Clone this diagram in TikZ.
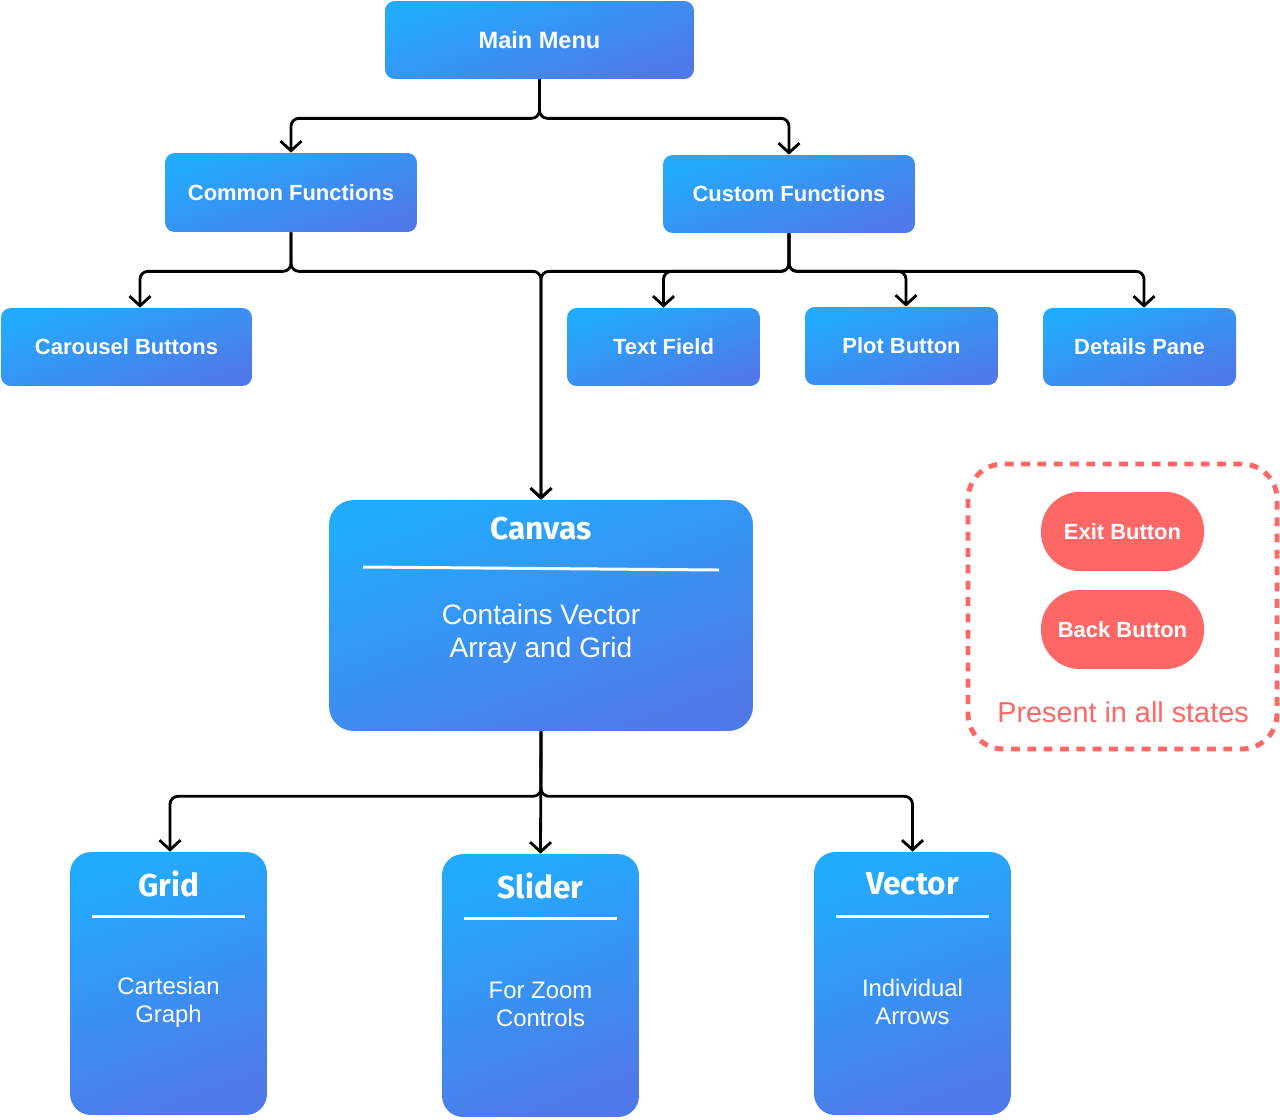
\documentclass[tikz,border=0pt]{standalone}
\usepackage{fontspec}
\setmainfont{Liberation Sans}
\newfontfamily\titlefont{Fira Sans}
\usetikzlibrary{arrows.meta}
\definecolor{gtop}{HTML}{22ABFE}
\definecolor{gbot}{HTML}{4F79E8}
\definecolor{redc}{HTML}{FF6666}
\tikzset{
  box/.style={rounded corners=5.5pt, top color=gtop, bottom color=gbot, shading angle=20,
    draw=none, text=white, inner sep=0pt, font=\bfseries\fontsize{12.5}{14}\selectfont},
  smallbox/.style={box, minimum width=3.86cm, minimum height=1.56cm},
  midbox/.style={box, minimum width=5.04cm, minimum height=1.56cm},
  tallbox/.style={box, rounded corners=12pt, minimum width=3.94cm, minimum height=5.26cm},
  ttl/.style={text=white, font=\titlefont\bfseries\fontsize{18}{20}\selectfont, inner sep=0pt},
  body/.style={text=white, align=center, inner sep=0pt, font=\fontsize{13.6}{16}\selectfont},
  rule/.style={draw=white, line width=1.7pt},
  conn/.style={draw=black, line width=1.6pt, rounded corners=4.5pt,
    -{Straight Barb[length=5.5pt,width=12pt,line width=1.6pt]}},
  pill/.style={fill=redc, draw=none, rounded corners=22pt, minimum width=3.26cm, minimum height=1.58cm,
    text=white, inner sep=0pt, font=\bfseries\fontsize{12.5}{14}\selectfont},
}
\begin{document}
\begin{tikzpicture}[x=0.02cm,y=-0.02cm]
\useasboundingbox (0,0) rectangle (1280,1119);
% top level
\node[box, minimum width=6.18cm, minimum height=1.56cm, font=\bfseries\fontsize{13.4}{15}\selectfont] (mm) at (539.5,40) {Main Menu};
\node[midbox, minimum height=1.58cm] (cf) at (291,192.5) {Common Functions};
\node[midbox] (cuf) at (789,194) {Custom Functions};
\node[midbox, minimum width=5.02cm] (car) at (126.5,347) {Carousel Buttons};
\node[smallbox] (tf) at (663.5,347) {Text Field};
\node[smallbox] (pb) at (901.5,346) {Plot Button};
\node[smallbox] (dp) at (1139.5,347) {Details Pane};
% canvas
\node[box, rounded corners=14pt, minimum width=8.48cm, minimum height=4.62cm] (cv) at (541,615.5) {};
\node[ttl] (cvt) at (541,529) {Canvas};
\draw[rule] (363,567) -- (719,570);
\node[body, font=\fontsize{16}{18.7}\selectfont] (cvb) at (541,634) {Contains Vector\\Array and Grid};
% bottom boxes
\node[tallbox] (gr) at (168.5,983.5) {};
\node[ttl] (grt) at (168.5,884) {Grid};
\draw[rule] (92,916) -- (245,916);
\node[body] (grb) at (168.5,1002) {Cartesian\\Graph};
\node[tallbox] (sl) at (540.5,985.5) {};
\node[ttl] (slt) at (540.5,886) {Slider};
\draw[rule] (464,918) -- (617,918);
\node[body] (slb) at (540.5,1004) {For Zoom\\Controls};
\node[tallbox] (ve) at (912.5,983.5) {};
\node[ttl] (vet) at (912.5,884) {Vector};
\draw[rule] (836,916) -- (989,916);
\node[body] (veb) at (912.5,1002) {Individual\\Arrows};
% persistent group
\draw[redc, line width=2.8pt, dash pattern=on 5pt off 4.3pt, rounded corners=20pt] (968,464) rectangle (1277,749);
\node[pill] (ex) at (1122.5,531.5) {Exit Button};
\node[pill] (bk) at (1122.5,629.5) {Back Button};
\node[text=redc, inner sep=0pt, font=\fontsize{16.4}{18}\selectfont] (pr) at (1123,712) {Present in all states};
% connectors
\draw[conn] (mm.south) -- ++(0,39) -| (cf.north);
\draw[conn] (mm.south) -- ++(0,39) -| (cuf.north);
\draw[conn] (cf.south) -- ++(0,39) -| ([xshift=0.27cm]car.north);
\draw[conn] (cf.south) -- ++(0,39) -| (cv.north);
\draw[conn] (cuf.south) -- ++(0,38) -| (cv.north);
\draw[conn] (cuf.south) -- ++(0,38) -| (tf.north);
\draw[conn] (cuf.south) -- ++(0,38) -| ([xshift=0.09cm]pb.north);
\draw[conn] (cuf.south) -- ++(0,38) -| ([xshift=0.09cm]dp.north);
\draw[conn] (cv.south) -- ++(0,65) -| ([xshift=0.03cm]gr.north);
\draw[conn] (cv.south) -- (sl.north);
\draw[conn] (cv.south) -- ++(0,65) -| (ve.north);
\end{tikzpicture}
\end{document}
